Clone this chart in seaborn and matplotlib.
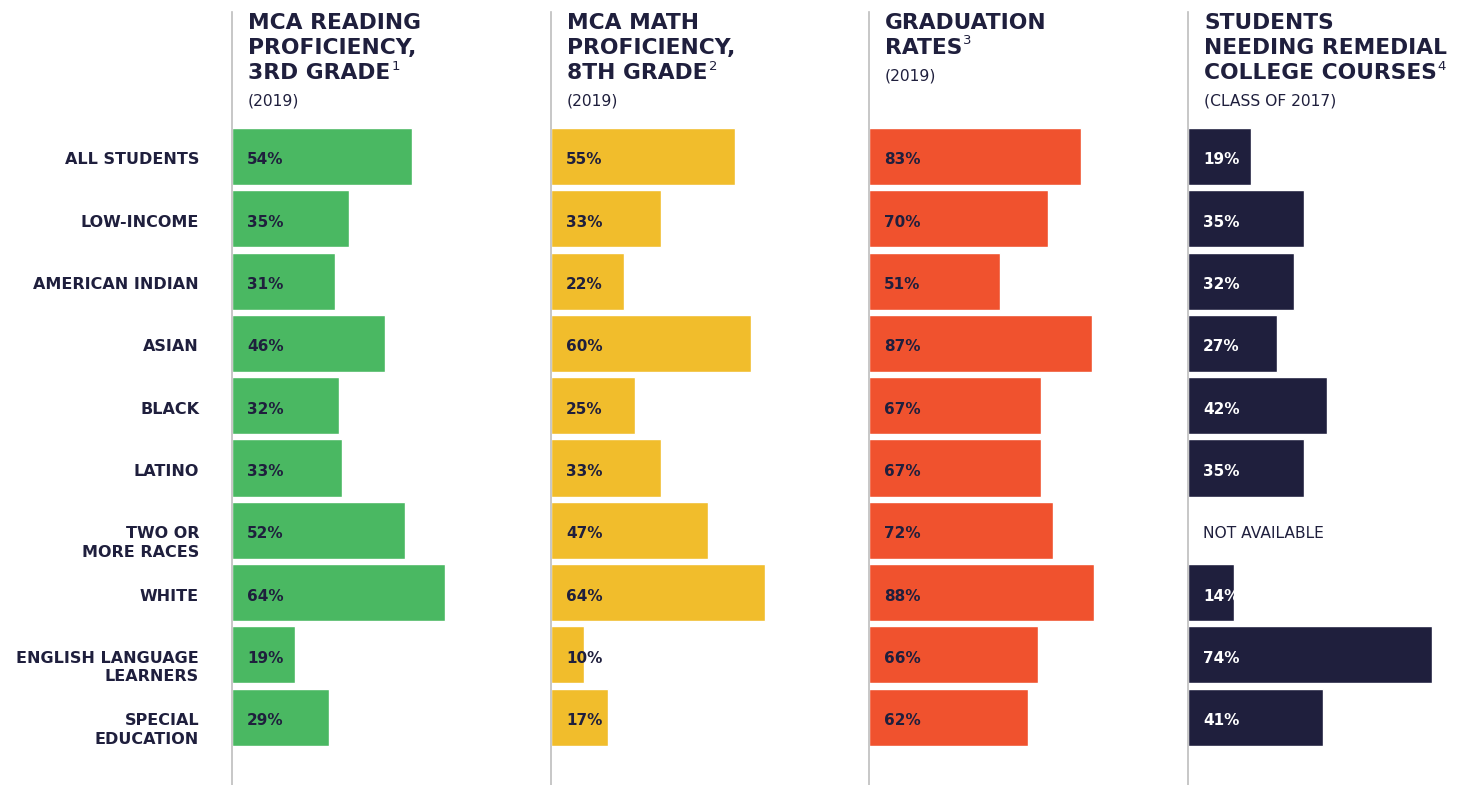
import matplotlib
matplotlib.use("Agg")
import matplotlib.pyplot as plt
import matplotlib.transforms as mtransforms
import seaborn as sns
import numpy as np
import pandas as pd

categories = ["ALL STUDENTS", "LOW-INCOME", "AMERICAN INDIAN", "ASIAN", "BLACK", "LATINO",
              "TWO OR\nMORE RACES", "WHITE", "ENGLISH LANGUAGE\nLEARNERS", "SPECIAL\nEDUCATION"]
reading = [54, 35, 31, 46, 32, 33, 52, 64, 19, 29]
math_prof = [55, 33, 22, 60, 25, 33, 47, 64, 10, 17]
graduation = [83, 70, 51, 87, 67, 67, 72, 88, 66, 62]
remedial = [19, 35, 32, 27, 42, 35, np.nan, 14, 74, 41]

titles = [["MCA READING", "PROFICIENCY,", "3RD GRADE"],
          ["MCA MATH", "PROFICIENCY,", "8TH GRADE"],
          ["GRADUATION", "RATES"],
          ["STUDENTS", "NEEDING REMEDIAL", "COLLEGE COURSES"]]
footnotes = ["1", "2", "3", "4"]
subtitles = ["(2019)", "(2019)", "(2019)", "(CLASS OF 2017)"]
missing_text = "NOT AVAILABLE"

NAVY = "#1f1f3d"
colors = ["#4ab862", "#f1bd2c", "#f0522e", NAVY]
label_colors = [NAVY, NAVY, NAVY, "white"]
xmax = [90.1, 89.8, 117.2, 90.9]

sns.set_style("white")
plt.rcParams["font.family"] = ["DejaVu Sans"]

W, H = 1462, 785
fig = plt.figure(figsize=(W / 100, H / 100), dpi=100)

df = pd.DataFrame({"cat": categories, "r": reading, "m": math_prof, "g": graduation, "c": remedial})
cols = ["r", "m", "g", "c"]
lefts = [232, 551, 869, 1188]
ax_w = 300
top_px = 12
row_px = 62.3
row0_px = 156.5
ax_h = H - top_px
y_top = -(row0_px - top_px) / row_px
y_bot = y_top + ax_h / row_px
text_dy = 3.5 / row_px

axes = []
for i, col in enumerate(cols):
    ax = fig.add_axes([lefts[i] / W, 0, ax_w / W, ax_h / H])
    sns.barplot(data=df, x=col, y="cat", color=colors[i], saturation=1, width=0.915,
                ax=ax, orient="h", errorbar=None)
    ax.set_xlim(0, xmax[i])
    ax.set_ylim(y_bot, y_top)
    ax.set_xlabel("")
    ax.set_ylabel("")
    ax.set_xticks([])
    ax.set_yticks([])
    for s in ["top", "right", "bottom"]:
        ax.spines[s].set_visible(False)
    ax.spines["left"].set_color("#bdbdbd")
    ax.spines["left"].set_linewidth(1.2)
    trans = mtransforms.blended_transform_factory(ax.transAxes, ax.transData)
    vals = df[col].tolist()
    for j, v in enumerate(vals):
        if pd.isna(v):
            ax.text(15 / ax_w, j + text_dy, missing_text, transform=trans, ha="left", va="center",
                    fontsize=11.2, color=NAVY)
        else:
            ax.text(15 / ax_w, j + text_dy, f"{int(v)}%", transform=trans, ha="left", va="center",
                    fontsize=11, fontweight="bold", color=label_colors[i])
    axes.append(ax)

# category labels
ax0 = axes[0]
trans0 = mtransforms.blended_transform_factory(ax0.transAxes, ax0.transData)
line_off = 18.5 / row_px
for j, cat in enumerate(categories):
    for k, part in enumerate(cat.split("\n")):
        ax0.text((199 - 232) / ax_w, j + k * line_off + text_dy, part, transform=trans0,
                 ha="right", va="center", fontsize=11.5, fontweight="bold", color=NAVY)

# headers
fig.canvas.draw()
renderer = fig.canvas.get_renderer()
for i in range(4):
    x = (lefts[i] + 16) / W
    last = None
    for k, line in enumerate(titles[i]):
        yc = 23 + 25 * k
        last = fig.text(x, 1 - yc / H, line, ha="left", va="center", fontsize=15.7,
                        fontweight="bold", color=NAVY)
    bb = last.get_window_extent(renderer)
    n = len(titles[i])
    yc_last = 23 + 25 * (n - 1)
    fig.text((bb.x1 + 1) / W, 1 - (yc_last - 7) / H, footnotes[i], ha="left", va="center",
             fontsize=9.5, color=NAVY)
    ysub = 23 + 25 * (n - 1) + 28
    fig.text(x, 1 - ysub / H, subtitles[i], ha="left", va="center", fontsize=11.2, color=NAVY)

fig.savefig("out.png", dpi=100, facecolor="white")
